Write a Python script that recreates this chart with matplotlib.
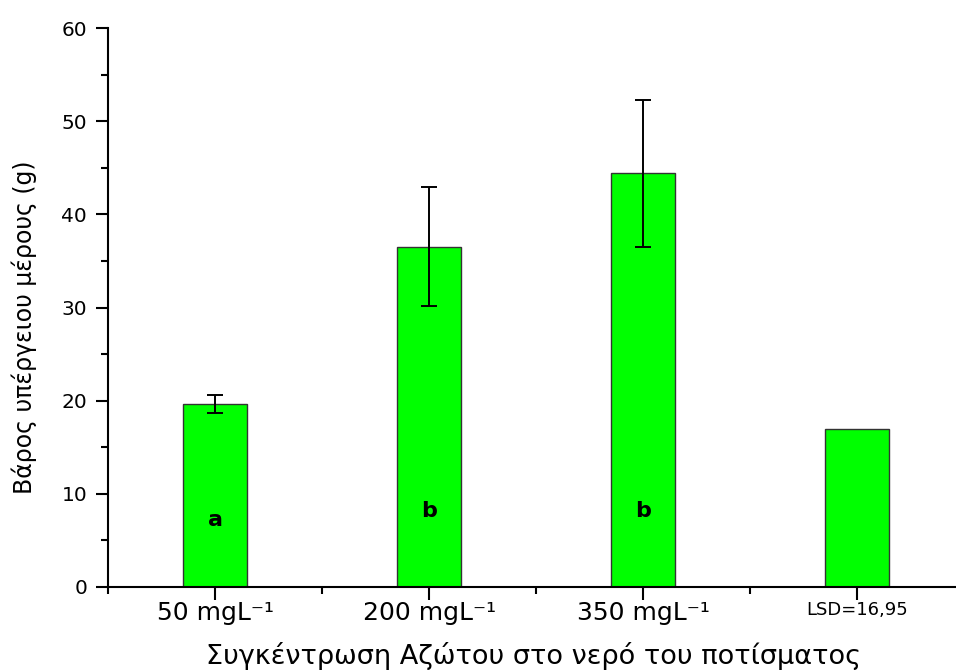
import matplotlib
matplotlib.use("Agg")
import matplotlib.pyplot as plt
from matplotlib.ticker import MultipleLocator, FixedLocator

plt.rcParams['font.family'] = ['DejaVu Sans']

categories = ["50 mgL⁻¹", "200 mgL⁻¹", "350 mgL⁻¹", "LSD=16,95"]
values = [19.6, 36.5, 44.4, 16.95]
err_low = [0.9, 6.3, 7.9]
err_high = [1.0, 6.4, 7.9]
letters = ["a", "b", "b"]

fig = plt.figure(figsize=(9.56, 6.72), dpi=100)
ax = fig.add_axes([108/956, 1-587/672, (960-108)/956, (587-28)/672])

x = [1, 2, 3, 4]
ax.bar(x, values, width=0.3, color='#00ff00', edgecolor='#333333', linewidth=1.0, zorder=2)
n = len(err_low)
ax.errorbar(x[:n], values[:n], yerr=[err_low, err_high], fmt='none',
            ecolor='black', elinewidth=1.4, capsize=6, capthick=1.4, zorder=3)
letter_base = [6.6, 7.5, 7.5]
for xi, lt, yb in zip(x[:n], letters, letter_base):
    ax.text(xi, yb, lt, ha='center', va='baseline', fontsize=16, fontweight='bold')

ax.set_xlim(0.5, 4.48)
ax.set_ylim(0, 60)
ax.spines['top'].set_visible(False)
ax.spines['right'].set_visible(False)
for s in ['left', 'bottom']:
    ax.spines[s].set_linewidth(1.5)

ax.set_xticks(x)
ax.set_xticklabels(categories)
ax.xaxis.set_minor_locator(FixedLocator([0.5, 1.5, 2.5, 3.5]))
ax.yaxis.set_major_locator(MultipleLocator(10))
ax.yaxis.set_minor_locator(MultipleLocator(5))
ax.tick_params(axis='both', which='major', direction='out', length=9, width=1.5)
ax.tick_params(axis='y', which='major', labelsize=14.5, pad=6)
ax.tick_params(axis='x', which='major', labelsize=18, pad=1)
ax.tick_params(axis='both', which='minor', direction='out', length=5, width=1.5)
ax.get_xticklabels()[-1].set_fontsize(13)

ax.set_xlabel("Συγκέντρωση Αζώτου στο νερό του ποτίσματος", fontsize=19.5, labelpad=12)
ax.set_ylabel("Βάρος υπέργειου μέρους (g)", fontsize=17, labelpad=12)
ax.yaxis.set_label_coords(-0.083, 0.465)

fig.savefig("out.png", dpi=100)
